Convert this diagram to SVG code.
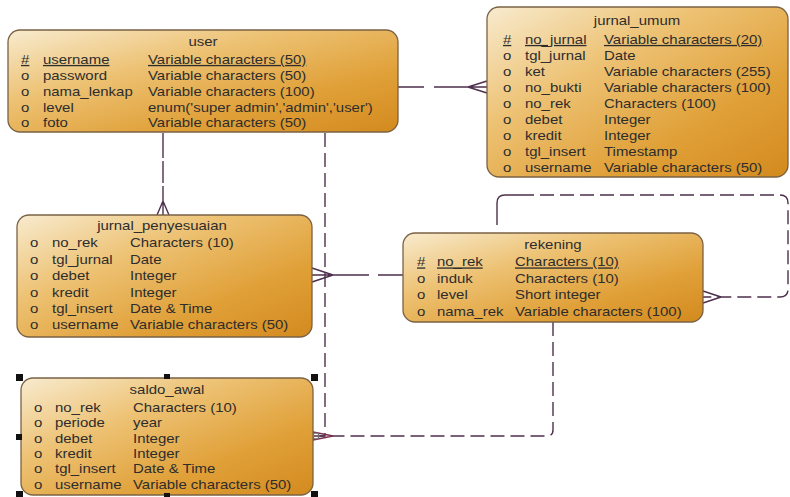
<svg xmlns="http://www.w3.org/2000/svg" width="790" height="497" viewBox="0 0 790 497">
<defs>
<linearGradient id="fillg" x1="0" y1="0" x2="1" y2="1">
<stop offset="0" stop-color="#f8ebcf"/>
<stop offset="0.35" stop-color="#edc274"/>
<stop offset="0.7" stop-color="#e0a038"/>
<stop offset="1" stop-color="#d38a1e"/>
</linearGradient>
<style>
.box{fill:url(#fillg);stroke:#7a6244;stroke-width:1.3}
text{font-family:"Liberation Sans",Arial,sans-serif;font-size:13px;fill:#2d2d2d}
.t{text-anchor:middle}
.u{text-decoration:underline}
.c{fill:none;stroke:#4e2f4c;stroke-width:1.4}
.d{stroke-dasharray:14 6}
.h{fill:#111}
</style>
</defs>
<rect width="790" height="497" fill="#fff"/>

<g id="connectors">
<!-- user - jurnal_umum -->
<path class="c" d="M398 87H424M434 87H487M468 87L487 81M468 87L487 93"/>
<!-- user - jurnal_penyesuaian -->
<path class="c" d="M163 133V158M163 161V183M163 186V215M163 201L157 215M163 201L169 215"/>
<!-- jurnal_penyesuaian - rekening -->
<path class="c" d="M312 275H369M378 275H403M333 275L312 268M333 275L312 282"/>
<!-- user - saldo_awal -->
<path class="c d" d="M325 133V436H313"/>
<!-- rekening - saldo_awal -->
<path class="c d" d="M553 322V430Q553 436 547 436H318"/>
<path class="c" d="M333 436L313 432M333 436L313 440" style="stroke:#7a2c4a"/>
<circle cx="316" cy="436" r="3" fill="none" stroke="#777" stroke-width="1.2"/>
<!-- rekening self loop -->
<path class="c" d="M497 225V203Q497 195 505 195H520"/>
<path class="c d" d="M520 195H780Q788 195 788 203V289Q788 297 780 297H703"/>
<path class="c" d="M721 297L703 291M721 297L703 303"/>
</g>

<g id="user">
<rect class="box" x="8" y="30" width="390" height="102" rx="12"/>
<g transform="translate(203 0) scale(1.15 1)"><text class="t" y="46.5">user</text></g>
<g transform="translate(21 0) scale(1.15 1)">
<text class="u" y="64">#</text><text y="80">o</text><text y="96">o</text><text y="112">o</text><text y="127.5">o</text>
</g>
<g transform="translate(43 0) scale(1.15 1)">
<text class="u" y="64">username</text><text y="80">password</text><text y="96">nama_lenkap</text><text y="112">level</text><text y="127.5">foto</text>
</g>
<g transform="translate(148 0) scale(1.15 1)">
<text class="u" y="64">Variable characters (50)</text><text y="80">Variable characters (50)</text><text y="96">Variable characters (100)</text><text y="112">enum('super admin','admin','user')</text><text y="127.5">Variable characters (50)</text>
</g>
</g>

<g id="jurnal_umum">
<rect class="box" x="487" y="7" width="301" height="170" rx="12"/>
<g transform="translate(637 0) scale(1.15 1)"><text class="t" y="25.5">jurnal_umum</text></g>
<g transform="translate(503 0) scale(1.15 1)">
<text class="u" y="44">#</text><text y="60">o</text><text y="76">o</text><text y="92">o</text><text y="108">o</text><text y="124">o</text><text y="140">o</text><text y="156">o</text><text y="172">o</text>
</g>
<g transform="translate(525 0) scale(1.15 1)">
<text class="u" y="44">no_jurnal</text><text y="60">tgl_jurnal</text><text y="76">ket</text><text y="92">no_bukti</text><text y="108">no_rek</text><text y="124">debet</text><text y="140">kredit</text><text y="156">tgl_insert</text><text y="172">username</text>
</g>
<g transform="translate(604 0) scale(1.15 1)">
<text class="u" y="44">Variable characters (20)</text><text y="60">Date</text><text y="76">Variable characters (255)</text><text y="92">Variable characters (100)</text><text y="108">Characters (100)</text><text y="124">Integer</text><text y="140">Integer</text><text y="156">Timestamp</text><text y="172">Variable characters (50)</text>
</g>
</g>

<g id="jurnal_penyesuaian">
<rect class="box" x="17" y="215" width="295" height="122" rx="12"/>
<g transform="translate(162 0) scale(1.15 1)"><text class="t" y="230.5">jurnal_penyesuaian</text></g>
<g transform="translate(30 0) scale(1.15 1)">
<text y="247.5">o</text><text y="264">o</text><text y="280.5">o</text><text y="297">o</text><text y="313">o</text><text y="329.5">o</text>
</g>
<g transform="translate(52 0) scale(1.15 1)">
<text y="247.5">no_rek</text><text y="264">tgl_jurnal</text><text y="280.5">debet</text><text y="297">kredit</text><text y="313">tgl_insert</text><text y="329.5">username</text>
</g>
<g transform="translate(130 0) scale(1.15 1)">
<text y="247.5">Characters (10)</text><text y="264">Date</text><text y="280.5">Integer</text><text y="297">Integer</text><text y="313">Date &amp; Time</text><text y="329.5">Variable characters (50)</text>
</g>
</g>

<g id="rekening">
<rect class="box" x="403" y="233" width="300" height="89" rx="12"/>
<g transform="translate(553 0) scale(1.15 1)"><text class="t" y="249.5">rekening</text></g>
<g transform="translate(417 0) scale(1.15 1)">
<text class="u" y="266.5">#</text><text y="283">o</text><text y="299.5">o</text><text y="316">o</text>
</g>
<g transform="translate(437 0) scale(1.15 1)">
<text class="u" y="266.5">no_rek</text><text y="283">induk</text><text y="299.5">level</text><text y="316">nama_rek</text>
</g>
<g transform="translate(515 0) scale(1.15 1)">
<text class="u" y="266.5">Characters (10)</text><text y="283">Characters (10)</text><text y="299.5">Short integer</text><text y="316">Variable characters (100)</text>
</g>
</g>

<g id="saldo_awal">
<rect class="box" x="21" y="378" width="292" height="117" rx="12"/>
<g transform="translate(167 0) scale(1.15 1)"><text class="t" y="394.5">saldo_awal</text></g>
<g transform="translate(34 0) scale(1.15 1)">
<text y="412">o</text><text y="427.5">o</text><text y="443">o</text><text y="458">o</text><text y="473.5">o</text><text y="489">o</text>
</g>
<g transform="translate(55 0) scale(1.15 1)">
<text y="412">no_rek</text><text y="427.5">periode</text><text y="443">debet</text><text y="458">kredit</text><text y="473.5">tgl_insert</text><text y="489">username</text>
</g>
<g transform="translate(133 0) scale(1.15 1)">
<text y="412">Characters (10)</text><text y="427.5">year</text><text y="443">Integer</text><text y="458">Integer</text><text y="473.5">Date &amp; Time</text><text y="489">Variable characters (50)</text>
</g>
<g id="selection_handles">
<rect class="h" x="16" y="374" width="7" height="7"/>
<rect class="h" x="164" y="374" width="6" height="5"/>
<rect class="h" x="311" y="374" width="7" height="7"/>
<rect class="h" x="16" y="434" width="6" height="6"/>
<rect class="h" x="16" y="491" width="7" height="6"/>
<rect class="h" x="164" y="493" width="6" height="4"/>
<rect class="h" x="311" y="491" width="7" height="6"/>
</g>
</g>
</svg>
